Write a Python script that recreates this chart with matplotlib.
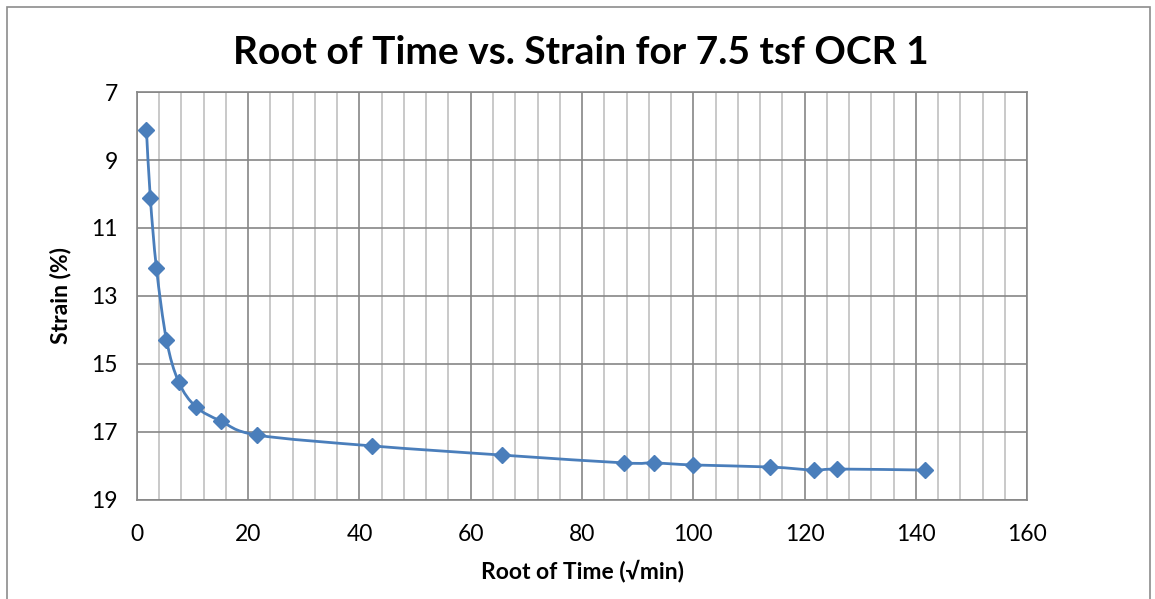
import matplotlib.pyplot as plt
from matplotlib.path import Path
from matplotlib.patches import PathPatch, Rectangle
from matplotlib.ticker import MultipleLocator

# root of time (sqrt min) and strain (%)
root_time = [1.7, 2.4, 3.5, 5.3, 7.5, 10.6, 15.1, 21.6, 42.3, 65.7, 87.6, 92.9, 100.0, 113.8, 121.7, 125.9, 141.7]
strain = [8.12, 10.12, 12.18, 14.29, 15.53, 16.26, 16.68, 17.09, 17.41, 17.68, 17.91, 17.91, 17.97, 18.03, 18.12, 18.09, 18.12]

x_ticks = [0, 20, 40, 60, 80, 100, 120, 140, 160]
y_ticks = [7, 9, 11, 13, 15, 17, 19]

blue = "#4A7EBB"
plt.rcParams['font.family'] = ['Lato', 'DejaVu Sans']

fig = plt.figure(figsize=(11.55, 5.99), dpi=100)
fig.patches.append(Rectangle((0.006, -0.01), 0.99, 0.998, transform=fig.transFigure,
                             fill=False, edgecolor="#8c8c8c", linewidth=1.2))
ax = fig.add_axes([0.1186, 0.1653, 0.7706, 0.6811])

# smooth line like excel (catmull-rom as bezier segments)
verts = [(root_time[0], strain[0])]
codes = [Path.MOVETO]
n = len(root_time)
for i in range(n - 1):
    p0 = (root_time[max(i - 1, 0)], strain[max(i - 1, 0)])
    p1 = (root_time[i], strain[i])
    p2 = (root_time[i + 1], strain[i + 1])
    p3 = (root_time[min(i + 2, n - 1)], strain[min(i + 2, n - 1)])
    c1 = (p1[0] + (p2[0] - p0[0]) / 6, p1[1] + (p2[1] - p0[1]) / 6)
    c2 = (p2[0] - (p3[0] - p1[0]) / 6, p2[1] - (p3[1] - p1[1]) / 6)
    verts += [c1, c2, p2]
    codes += [Path.CURVE4] * 3
ax.add_patch(PathPatch(Path(verts, codes), fill=False, edgecolor=blue, linewidth=2.0, zorder=3))
ax.plot(root_time, strain, linestyle="none", marker="D", markersize=8.5,
        color=blue, zorder=4)

ax.set_xlim(0, 160)
ax.set_ylim(19, 7)
ax.set_xticks(x_ticks)
ax.set_yticks(y_ticks)
ax.xaxis.set_minor_locator(MultipleLocator(4))
ax.grid(True, which="major", color="#868686", linewidth=1.2)
ax.grid(True, which="minor", axis="x", color="#c0c0c0", linewidth=1.2)
ax.set_axisbelow(True)
for s in ax.spines.values():
    s.set_color("#868686")
    s.set_linewidth(1.2)
ax.tick_params(which="both", length=0, labelsize=16.5)
ax.tick_params(axis="x", pad=17)
ax.tick_params(axis="y", pad=14)

fig.text(0.503, 0.913, "Root of Time vs. Strain for 7.5 tsf OCR 1", ha="center", va="center",
         fontsize=28, fontweight="bold")
ax.set_xlabel("Root of Time (\u221amin)", fontsize=16.5, fontweight="bold", labelpad=11)
ax.set_ylabel("Strain (%)", fontsize=16.5, fontweight="bold", labelpad=14)

fig.savefig("out.png", dpi=100)
